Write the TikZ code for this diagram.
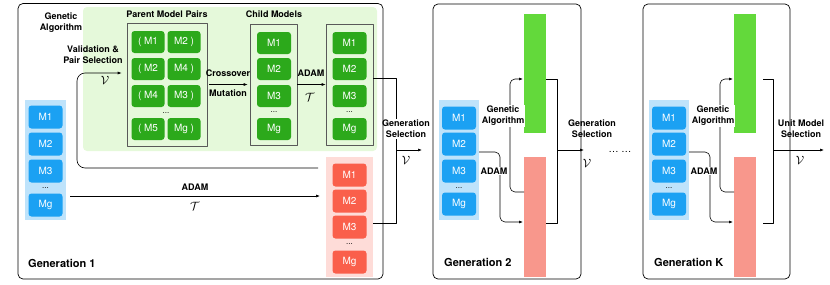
\documentclass[tikz,border=0pt]{standalone}
\usepackage{fontspec}
\setmainfont{TeX Gyre Heros}
\usetikzlibrary{positioning,arrows.meta,fit}
\definecolor{skyblue}{HTML}{1BA1F3}
\definecolor{skybg}{HTML}{BEE3FB}
\definecolor{leafgreen}{HTML}{2CA91B}
\definecolor{leafbg}{HTML}{E5F9DA}
\definecolor{tomato}{HTML}{FA5F4B}
\definecolor{rosebg}{HTML}{FEDCD8}
\definecolor{limebar}{HTML}{63D93B}
\definecolor{salmonbar}{HTML}{F8978C}
\tikzset{
	model/.style={rounded corners=3pt, minimum width=34pt, minimum height=23pt, inner sep=0pt, text=white, font=\fontsize{10}{12}\selectfont},
	bluem/.style={model, fill=skyblue},
	greenm/.style={model, fill=leafgreen, minimum width=33pt, minimum height=22pt},
	redm/.style={model, fill=tomato},
	panel/.style={inner sep=0pt, outer sep=0pt},
	lbl/.style={font=\fontsize{9}{11}\selectfont\bfseries, align=center, inner sep=1pt},
	wlbl/.style={lbl, fill=white},
	gtitle/.style={font=\fontsize{11}{13}\selectfont\bfseries, inner sep=1pt, anchor=west},
	frame/.style={draw=black!65, line width=.6pt, inner sep=0pt},
	conn/.style={line width=.6pt, -{Latex[length=4pt,width=3pt]}},
	wire/.style={line width=.6pt},
	gdots/.style={font=\fontsize{8}{8}\selectfont, inner sep=0pt},
	calv/.style={font=\fontsize{12}{12}\selectfont, inner sep=0pt}
}
\begin{document}
\begin{tikzpicture}[x=1pt,y=-1pt,line join=round]
	\useasboundingbox (0,0) rectangle (830,284);
	
	% generation 1
	\node[panel, fill=leafbg, rounded corners=4pt, minimum width=294pt, minimum height=144pt] (gabg) at (230,79) {};
	\node[panel, fill=rosebg, minimum width=47pt, minimum height=120pt] (rose1) at (349.5,217) {};
	\node[panel, fill=skybg, minimum width=41pt, minimum height=120pt] (col1) at (45.5,160) {};
	\foreach \n/\y in {M1/117,M2/144,M3/171,Mg/205}
	\node[bluem] (a-\n) at (45.5,\y) {\n};
	\node[gdots] (a-dots) at (45.5,188) {...};
	
	\foreach \l/\r/\y [count=\k] in {M1/M2/42,M2/M4/69,M4/M3/96,M5/Mg/129}{
		\node[greenm] (pl\k) at (148,\y) {( \l};
		\node[greenm] (pr\k) at (184,\y) {\r{} )};
	}
	\node[gdots] (p-dots) at (166,113) {...};
	\foreach \n/\y in {M1/43,M2/69,M3/96,Mg/129}{
		\node[greenm, minimum width=34pt] (c-\n) at (274,\y) {\n};
		\node[greenm, minimum width=34pt] (t-\n) at (349.5,\y) {\n};
	}
	\node[gdots] (c-dots) at (274,112) {...};
	\node[gdots] (t-dots) at (349.5,112) {...};
	\foreach \n/\y in {M1/175,M2/201,M3/227,Mg/262}
	\node[redm] (r-\n) at (349.5,\y) {\n};
	\node[gdots] (r-dots) at (349.5,244) {...};
	
	\node[frame, fit={(127,23) (207,146)}] (pairs) {};
	\node[frame, fit={(250,24) (297,145)}] (childs) {};
	\node[frame, fit={(326,24) (373,145)}] (trained) {};
	
	\node[lbl] (galbl) at (61,22.5) {Genetic\\Algorithm};
	\node[lbl] (vallbl) at (93,54.5) {Validation \&\\Pair Selection};
	\node[lbl] (pairlbl) at (167,14) {Parent Model Pairs};
	\node[lbl] (childlbl) at (274,14) {Child Models};
	\node[lbl] (xlbl) at (228,73) {Crossover};
	\node[lbl] (mlbl) at (228,93) {Mutation};
	\node[lbl] (adam1) at (311,73) {ADAM};
	\node[calv] (tau1) at (310,97) {$\mathcal{T}$};
	\node[lbl] (adam0) at (195,187) {ADAM};
	\node[calv] (tau0) at (195,206) {$\mathcal{T}$};
	\node[calv] (val1) at (105,80) {$\mathcal{V}$};
	
	\draw[conn] ([xshift=2pt]pairs.east) -- ([xshift=-2pt]childs.west);
	\draw[conn] (childs.east) -- (trained.west);
	\coordinate (fb) at (318,168);
	\draw[conn, rounded corners=8pt] (fb) -- (77,168) -- (77,73) -- ([xshift=-5pt]pairs.west |- 0,73);
	\draw[conn] ([xshift=4pt]col1.east |- 0,196) -- ([xshift=-6pt]rose1.west |- 0,196);
	
	\draw[wire] (trained.east |- 0,78) -- (396,78) -- (396,223) -- (rose1.east |- 0,223);
	\coordinate (in2) at (422,150);
	\draw[conn] (396,150) -- (in2);
	\node[wlbl] (gs1) at (406,129) {Generation\\Selection};
	\node[calv] (val2) at (406,160) {$\mathcal{V}$};
	
	% generation 2 and K
	\foreach \g/\dx in {2/0,K/210}{
		\node[panel, fill=skybg, minimum width=40pt, minimum height=120pt] (col\g) at (459+\dx,160) {};
		\foreach \n/\y in {M1/118,M2/144,M3/171,Mg/204}
		\node[bluem] (b\g-\n) at (459+\dx,\y) {\n};
		\node[gdots] (b\g-dots) at (459+\dx,188) {...};
		\node[panel, fill=limebar, minimum width=22pt, minimum height=119pt] (ga\g) at (535+\dx,73.5) {};
		\node[panel, fill=salmonbar, minimum width=22pt, minimum height=120pt] (ad\g) at (535+\dx,217) {};
		\draw[conn, rounded corners=5pt] (col\g.east |- 0,152) -- (500+\dx,152) -- (500+\dx,222) -- ([xshift=-1pt]ad\g.west |- 0,222);
		\draw[conn, rounded corners=5pt] (ad\g.west |- 0,192) -- (510+\dx,192) -- (510+\dx,79) -- ([xshift=-1pt]ga\g.west |- 0,79);
		\node[wlbl] (gal\g) at (503+\dx,116) {Genetic\\Algorithm};
		\node[wlbl] (adl\g) at (494+\dx,171) {ADAM};
		\node[gtitle] (g\g lbl) at (443+\dx,262) {Generation \g};
	}
	
	\draw[wire] (ga2.east |- 0,79) -- (557,79) -- (557,223) -- (ad2.east |- 0,223);
	\coordinate (cont) at (584,150);
	\draw[conn] (557,150) -- (cont);
	\node[wlbl] (gs2) at (592,129) {Generation\\Selection};
	\node[calv] (val3) at (587,163) {$\mathcal{V}$};
	\node[lbl, font=\fontsize{10}{10}\selectfont] (dots) at (620,152) {\dots\ \dots};
	
	\draw[wire] ([xshift=7pt]gaK.east |- 0,79) -- (773,79) -- (773,223) -- ([xshift=7pt]adK.east |- 0,223);
	\coordinate (out) at (824,150);
	\draw[conn] (773,150) -- (out);
	\node[wlbl] (gsK) at (801,129) {Unit Model\\Selection};
	\node[calv] (val4) at (800,160) {$\mathcal{V}$};
	
	\node[gtitle] (g1lbl) at (27,263) {Generation 1};
	
	% generation frames
	\draw[line width=.7pt, rounded corners=5pt] (18,3.5) rectangle (383,279);
	\draw[line width=.7pt, rounded corners=5pt] (433,4) rectangle (581,279);
	\draw[line width=.7pt, rounded corners=5pt] (643,4) rectangle (790,279);
\end{tikzpicture}
\end{document}
